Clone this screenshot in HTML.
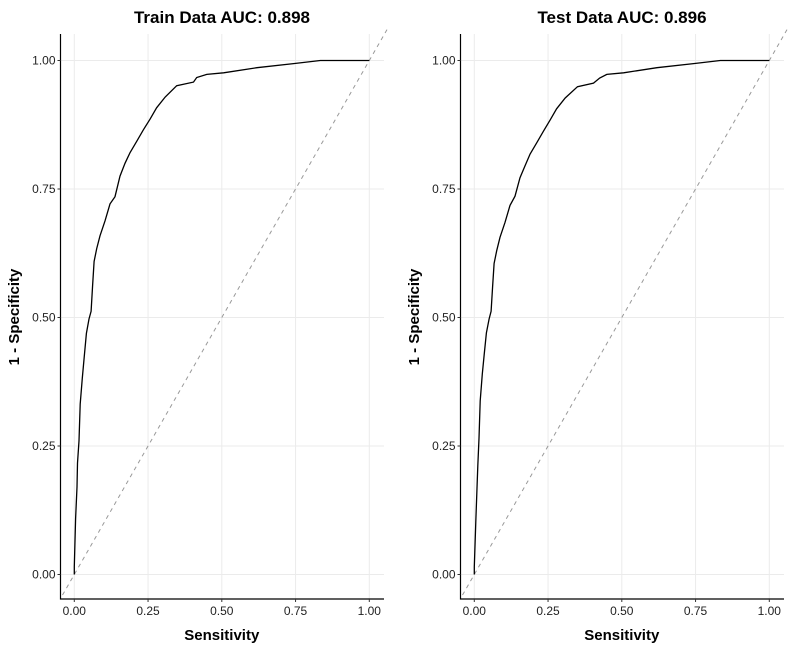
<!DOCTYPE html>
<html><head><meta charset="utf-8"><style>
body{margin:0;background:#fff;}
svg{display:block;font-family:"Liberation Sans",Arial,sans-serif;}
</style></head><body>
<svg id="c" width="800" height="648"></svg>
<script>
const ticks=[0,0.25,0.5,0.75,1];
const tickLabels=["0.00","0.25","0.50","0.75","1.00"];
const trainX=[0,0,0.0045,0.009,0.011,0.016,0.020,0.027,0.034,0.041,0.050,0.057,0.062,0.067,0.076,0.087,0.104,0.121,0.138,0.155,0.172,0.189,0.212,0.234,0.257,0.279,0.308,0.347,0.404,0.415,0.449,0.506,0.619,0.743,0.834,1];
const trainY=[0,0.015,0.109,0.170,0.217,0.260,0.332,0.382,0.425,0.469,0.497,0.512,0.562,0.609,0.634,0.659,0.688,0.721,0.735,0.775,0.800,0.821,0.843,0.865,0.886,0.908,0.929,0.951,0.958,0.967,0.973,0.976,0.986,0.994,1.0,1.0];
const testX=[0,0,0.005,0.009,0.012,0.016,0.020,0.027,0.034,0.041,0.050,0.057,0.062,0.067,0.076,0.087,0.104,0.121,0.138,0.155,0.172,0.189,0.212,0.234,0.257,0.279,0.308,0.350,0.404,0.425,0.449,0.506,0.619,0.743,0.834,1];
const testY=[0,0.015,0.103,0.168,0.211,0.265,0.338,0.390,0.430,0.470,0.497,0.512,0.560,0.605,0.630,0.656,0.685,0.718,0.736,0.772,0.795,0.818,0.840,0.862,0.884,0.906,0.927,0.949,0.956,0.966,0.973,0.976,0.986,0.994,1.0,1.0];
const titles=["Train Data AUC: 0.898","Test Data AUC: 0.896"];
const NS="http://www.w3.org/2000/svg";
const svg=document.getElementById('c');
function mk(tag,attrs,parent,text){const e=document.createElementNS(NS,tag);for(const k in attrs)e.setAttribute(k,attrs[k]);if(text!==undefined)e.textContent=text;(parent||svg).appendChild(e);return e;}
function panel(ox,title,xs,ys,idx){
  const g=mk('g',{});
  
  
  const L=ox+60.5,R=ox+384,T=34,B=599;
  const sx=v=>ox+74.3+v*295;
  const sy=v=>574.5-v*514;
  ticks.forEach((t,i)=>{
    const gv=mk('line',{x1:sx(t),x2:sx(t),y1:T,y2:B,stroke:'#ebebeb','stroke-width':1},g);
    
    const gh=mk('line',{x1:L,x2:R,y1:sy(t),y2:sy(t),stroke:'#ebebeb','stroke-width':1},g);
    
  });
  const d=mk('line',{x1:sx(-0.04),y1:sy(-0.04),x2:sx(1.06),y2:sy(1.06),stroke:'#999','stroke-width':1,'stroke-dasharray':'4,4'},g);
  
  let p='';xs.forEach((x,i)=>{p+=(i?'L':'M')+sx(x).toFixed(1)+','+sy(ys[i]).toFixed(1);});
  const c=mk('path',{d:p,fill:'none',stroke:'#000','stroke-width':1.3},g);
  
  const ax=mk('path',{d:`M${L},${T}V${B}H${R}`,fill:'none',stroke:'#000','stroke-width':1.2},g);
  
  ticks.forEach((t,i)=>{
    mk('line',{x1:L-3,x2:L,y1:sy(t),y2:sy(t),stroke:'#333'},g);
    mk('line',{x1:sx(t),x2:sx(t),y1:B,y2:B+3,stroke:'#333'},g);
    const yl=mk('text',{x:L-5,y:sy(t)+4,'text-anchor':'end','font-size':12,fill:'#222'},g,tickLabels[i]);
    
    const xl=mk('text',{x:sx(t),y:B+16,'text-anchor':'middle','font-size':12,fill:'#222'},g,tickLabels[i]);
    
  });
  const tt=mk('text',{x:ox+222,y:23,'text-anchor':'middle','font-size':17,'font-weight':'bold'},g,title);
  
  const xt=mk('text',{x:sx(0.5),y:640,'text-anchor':'middle','font-size':15,'font-weight':'bold'},g,'Sensitivity');
  
  const yt=mk('text',{x:0,y:0,'text-anchor':'middle','font-size':15,'font-weight':'bold',transform:`translate(${ox+19},317) rotate(-90)`},g,'1 - Specificity');
  
}
panel(0,titles[0],trainX,trainY,0);
panel(400,titles[1],testX,testY,1);
</script>
</body></html>
